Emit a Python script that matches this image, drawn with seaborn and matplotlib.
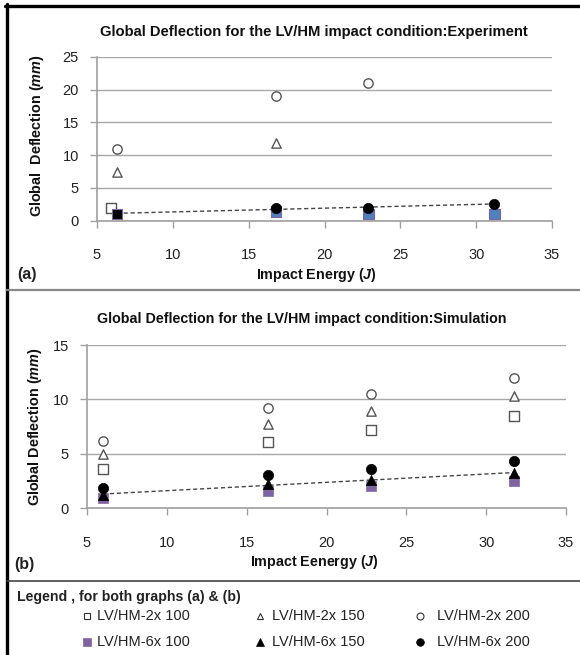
import numpy as np
import pandas as pd
import matplotlib
matplotlib.use("Agg")
import matplotlib.pyplot as plt
from matplotlib.lines import Line2D
import seaborn as sns

sns.set_style("white")
plt.rcParams['font.family'] = ['Liberation Sans', 'DejaVu Sans']
plt.rcParams['mathtext.fontset'] = 'custom'
plt.rcParams['mathtext.it'] = 'Liberation Sans:italic:bold'
plt.rcParams['mathtext.rm'] = 'Liberation Sans:bold'

# ---------------- data: (a) Experiment ----------------
exp_2x100_x = [5.9]
exp_2x100_y = [2.0]
exp_2x150_x = [6.3, 16.8]
exp_2x150_y = [7.5, 11.9]
exp_2x200_x = [6.3, 16.8, 22.9]
exp_2x200_y = [11.0, 19.0, 21.0]
exp_6x100_x = [6.3, 16.8, 22.9, 31.2]
exp_6x100_y = [1.0, 1.4, 1.0, 1.0]
exp_6x200_x = [6.3, 16.8, 22.9, 31.2]
exp_6x200_y = [1.0, 2.0, 2.0, 2.5]

# ---------------- data: (b) Simulation ----------------
sim_x = [6.0, 16.35, 22.8, 31.75]
sim_2x100_y = [3.6, 6.1, 7.2, 8.5]
sim_2x150_y = [5.0, 7.7, 8.9, 10.3]
sim_2x200_y = [6.2, 9.2, 10.5, 12.0]
sim_6x100_y = [0.95, 1.6, 2.0, 2.45]
sim_6x150_y = [1.22, 2.17, 2.62, 3.2]
sim_6x200_y = [1.8, 3.0, 3.6, 4.3]

legend_labels = ["LV/HM-2x 100", "LV/HM-2x 150", "LV/HM-2x 200",
                 "LV/HM-6x 100", "LV/HM-6x 150", "LV/HM-6x 200"]

W, H = 580, 655
fig = plt.figure(figsize=(W / 100, H / 100), dpi=100)


def ax_rect(l, r, top, bottom):
    return [l / W, 1 - bottom / H, (r - l) / W, (bottom - top) / H]


OPEN_EC = '#555555'
PURPLE = '#8064A2'
BLUE = '#4F81BD'


def style_axes(ax, ymax, ystep, pad_x):
    ax.set_xlim(5, 35)
    ax.set_ylim(0, ymax)
    ax.set_xticks(np.arange(5, 36, 5))
    ax.set_yticks(np.arange(0, ymax + 0.1, ystep))
    ax.yaxis.grid(True, color='#A8A8A8', lw=1.0)
    ax.xaxis.grid(False)
    for s in ['top', 'right']:
        ax.spines[s].set_visible(False)
    for s in ['left', 'bottom']:
        ax.spines[s].set_color('#A0A0A0')
        ax.spines[s].set_linewidth(1.2)
    ax.tick_params(axis='x', direction='out', length=5, width=1, color='#A0A0A0',
                   pad=pad_x, labelsize=10.5, labelcolor='#222222', bottom=True)
    ax.tick_params(axis='y', direction='out', length=5, width=1, color='#A0A0A0',
                   pad=8, labelsize=10.5, labelcolor='#222222', left=True)
    ax.set_xlabel('')
    ax.set_ylabel('')
    ax.set_axisbelow(True)


# ---------------- panel (a) ----------------
axa = fig.add_axes(ax_rect(97, 552, 57, 220.7))
axa.set_facecolor('none')
sns.regplot(x=exp_6x200_x, y=exp_6x200_y, ax=axa, scatter=False, ci=None,
            line_kws=dict(color='#444444', lw=1.0, ls=(0, (3, 2))))
sns.scatterplot(x=exp_2x100_x, y=exp_2x100_y, ax=axa, marker='s', s=45,
                facecolor='white', edgecolor=OPEN_EC, linewidth=1.0, zorder=3)
sns.scatterplot(x=exp_2x150_x, y=exp_2x150_y, ax=axa, marker='^', s=45,
                facecolor='white', edgecolor=OPEN_EC, linewidth=1.0, zorder=3)
sns.scatterplot(x=exp_2x200_x, y=exp_2x200_y, ax=axa, marker='o', s=45,
                facecolor='white', edgecolor=OPEN_EC, linewidth=1.0, zorder=3)
sns.scatterplot(x=exp_6x100_x, y=exp_6x100_y, ax=axa, marker='s', s=55,
                color=['black', BLUE, BLUE, BLUE], edgecolor=PURPLE, linewidth=0.8, zorder=4)
sns.scatterplot(x=exp_6x200_x[1:], y=exp_6x200_y[1:], ax=axa, marker='o', s=55,
                color='black', edgecolor='black', linewidth=0.5, zorder=5)
style_axes(axa, 25, 5, 15)

fig.text(314 / W, 1 - 32 / H, 'Global Deflection for the LV/HM impact condition:Experiment',
         ha='center', va='center', fontsize=10.6, fontweight='bold', color='#111111')
fig.text(316 / W, 1 - 275 / H, 'Impact Energy ($J$)', ha='center', va='center',
         fontsize=10.3, fontweight='bold', color='#111111')
fig.text(37 / W, 1 - 136 / H, 'Global  Deflection ($mm$)', ha='center', va='center',
         rotation=90, fontsize=10.4, fontweight='bold', color='#111111')
fig.text(17 / W, 1 - 275 / H, '(a)', ha='left', va='center', fontsize=11.5,
         fontweight='bold', color='#222222')

# ---------------- panel (b) ----------------
axb = fig.add_axes(ax_rect(87, 566, 345, 508))
axb.set_facecolor('none')
sns.regplot(x=sim_x, y=sim_6x150_y, ax=axb, scatter=False, ci=None,
            line_kws=dict(color='#444444', lw=1.0, ls=(0, (3, 2))))
sns.scatterplot(x=sim_x, y=sim_2x100_y, ax=axb, marker='s', s=45,
                facecolor='white', edgecolor=OPEN_EC, linewidth=1.0, zorder=3)
sns.scatterplot(x=sim_x, y=sim_2x150_y, ax=axb, marker='^', s=45,
                facecolor='white', edgecolor=OPEN_EC, linewidth=1.0, zorder=3)
sns.scatterplot(x=sim_x, y=sim_2x200_y, ax=axb, marker='o', s=45,
                facecolor='white', edgecolor=OPEN_EC, linewidth=1.0, zorder=3)
sns.scatterplot(x=sim_x, y=sim_6x100_y, ax=axb, marker='s', s=55,
                color=PURPLE, edgecolor=PURPLE, linewidth=0.5, zorder=4)
sns.scatterplot(x=sim_x, y=sim_6x150_y, ax=axb, marker='^', s=55,
                color='black', edgecolor='black', linewidth=0.5, zorder=5)
sns.scatterplot(x=sim_x, y=sim_6x200_y, ax=axb, marker='o', s=55,
                color='black', edgecolor='black', linewidth=0.5, zorder=6)
style_axes(axb, 15, 5, 15)

fig.text(302 / W, 1 - 319 / H, 'Global Deflection for the LV/HM impact condition:Simulation',
         ha='center', va='center', fontsize=10.3, fontweight='bold', color='#111111')
fig.text(314 / W, 1 - 562 / H, 'Impact Eenergy ($J$)', ha='center', va='center',
         fontsize=10.3, fontweight='bold', color='#111111')
fig.text(35 / W, 1 - 427 / H, 'Global Deflection ($mm$)', ha='center', va='center',
         rotation=90, fontsize=10.4, fontweight='bold', color='#111111')
fig.text(14 / W, 1 - 565 / H, '(b)', ha='left', va='center', fontsize=11.5,
         fontweight='bold', color='#222222')

# ---------------- frame lines ----------------
fig.add_artist(Line2D([6.5 / W, 6.5 / W], [0, 1 - 4 / H], color='black', lw=2.4))
fig.add_artist(Line2D([5 / W, 1], [1 - 5.5 / H, 1 - 5.5 / H], color='black', lw=2.4))
fig.add_artist(Line2D([7 / W, 1], [1 - 289.5 / H, 1 - 289.5 / H], color='#888888', lw=1.6))
fig.add_artist(Line2D([7 / W, 1], [1 - 581 / H, 1 - 581 / H], color='#444444', lw=1.2))

# ---------------- legend ----------------
fig.text(17 / W, 1 - 597 / H, 'Legend , for both graphs (a) & (b)', ha='left', va='center',
         fontsize=10.2, fontweight='bold', color='#222222')
leg_marker_x = [87, 260, 420]
leg_text_x = [97, 272, 437]
leg_row_y = [616, 642]
leg_styles = [
    dict(marker='s', mfc='white', mec='#333333', ms=5, mew=0.8),
    dict(marker='^', mfc='white', mec='#333333', ms=5, mew=0.8),
    dict(marker='o', mfc='white', mec='#333333', ms=5, mew=0.8),
    dict(marker='s', mfc=PURPLE, mec=PURPLE, ms=5.5, mew=0.5),
    dict(marker='^', mfc='black', mec='black', ms=5.5, mew=0.5),
    dict(marker='o', mfc='black', mec='black', ms=5.5, mew=0.5),
]
for i, lab in enumerate(legend_labels):
    r, c = divmod(i, 3)
    fig.add_artist(Line2D([leg_marker_x[c] / W], [1 - leg_row_y[r] / H], ls='none',
                          **leg_styles[i]))
    fig.text(leg_text_x[c] / W, 1 - leg_row_y[r] / H, lab, ha='left', va='center',
             fontsize=10.5, color='#222222')

fig.savefig('out.png', dpi=100)
